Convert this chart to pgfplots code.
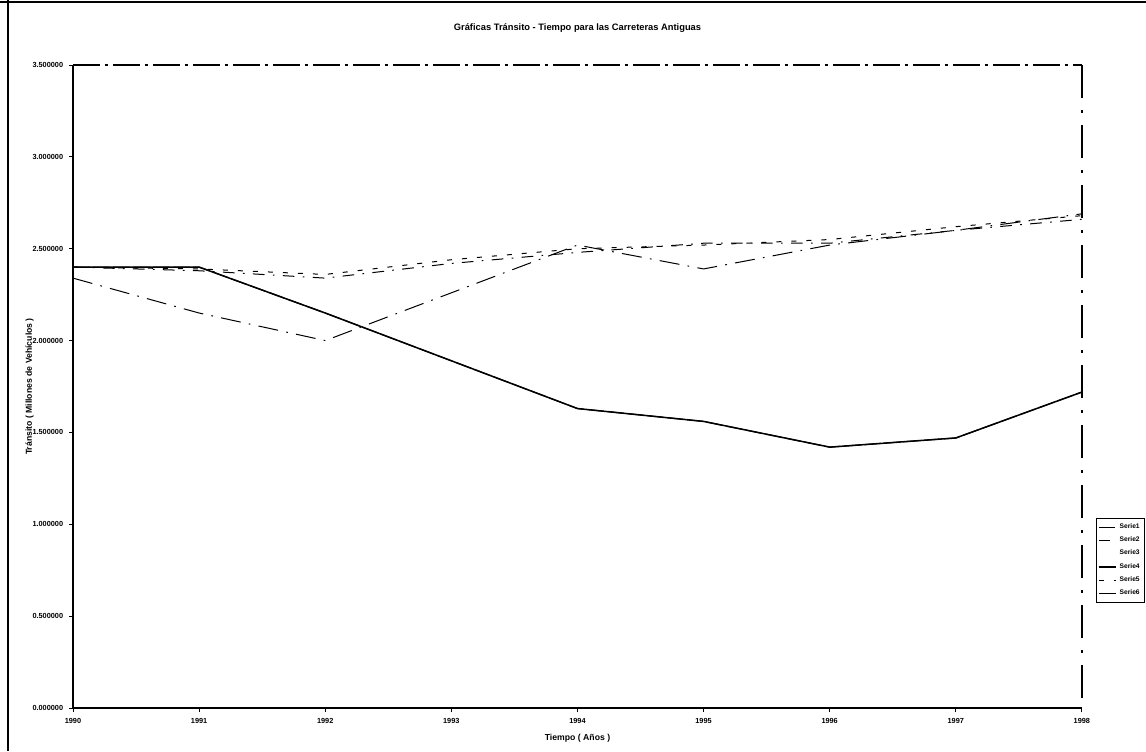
\documentclass[border=0pt]{standalone}
\usepackage{pgfplots}
\pgfplotsset{compat=1.18}
\usepackage{fontspec}
\setmainfont{Liberation Sans}

% Traffic (millions of vehicles) per year, old roads
\pgfplotstableread{
year s1 s2 s3 s4 s5 s6
1990 2.40 2.40 2.40 2.40 2.40 2.34
1991 2.40 2.38 2.38 2.40 2.39 2.15
1992 2.15 2.34 2.34 2.15 2.36 2.00
1993 1.89 2.42 2.42 1.89 2.44 2.26
1994 1.63 2.48 2.48 1.63 2.50 2.52
1995 1.56 2.53 2.53 1.56 2.52 2.39
1996 1.42 2.53 2.53 1.42 2.55 2.52
1997 1.47 2.60 2.60 1.47 2.62 2.60
1998 1.72 2.66 2.66 1.72 2.68 2.69
}\traffic

\begin{document}
\begin{tikzpicture}
% outer chart frame (top and left edges)
\draw[line width=1.6pt] (0pt,-1.2pt) -- (687.6pt,-1.2pt);
\draw[line width=1pt] (4.8pt,0pt) -- (4.8pt,-450.6pt);
\begin{axis}[
  at={(43.8pt,-424.8pt)}, anchor=south west,
  scale only axis, width=605.4pt, height=385.8pt,
  xmin=1990, xmax=1998, ymin=0, ymax=3.5,
  xtick={1990,...,1998},
  ytick={0,0.5,...,3.5},
  axis x line*=bottom, axis y line*=left,
  axis line style={line width=1.3pt, -},
  tick align=outside, major tick length=2.4pt,
  tick style={black, line width=0.6pt},
  xticklabel style={font=\fontsize{4.4}{5}\selectfont\bfseries, /pgf/number format/set thousands separator={}},
  yticklabel style={font=\fontsize{4.4}{5}\selectfont\bfseries, /pgf/number format/.cd, fixed, fixed zerofill, precision=6},
  /pgf/number format/assume math mode=true,
  xlabel={Tiempo ( Años )},
  ylabel={Tránsito ( Millones de Vehículos )},
  every axis x label/.style={at={(rel axis cs:0.5,-0.047)}, anchor=center, font=\fontsize{5.2}{6}\selectfont\bfseries},
  every axis y label/.style={at={(rel axis cs:-0.043,0.5)}, rotate=90, anchor=center, font=\fontsize{5.2}{6}\selectfont\bfseries},
  title={Gráficas Tránsito - Tiempo para las Carreteras Antiguas},
  every axis title/.style={at={(rel axis cs:0.5,1.058)}, anchor=center, font=\fontsize{5.6}{6}\selectfont\bfseries},
  legend style={at={(rel axis cs:1.0138,0.295)}, anchor=north west,
    font=\fontsize{4}{5}\selectfont\bfseries, draw=black, line width=0.6pt,
    inner sep=0.8pt, row sep=-0.4pt, legend cell align=left},
  legend image post style={xscale=0.6},
  clip=false,
]
% plot area border: top and right edges
\draw[line width=0.7pt, dash pattern=on 16pt off 3pt on 2pt off 3pt] (rel axis cs:0,1) -- (rel axis cs:1,1);
\draw[line width=0.8pt, dash pattern=on 20pt off 7pt on 2pt off 7pt] (rel axis cs:1,1) -- (rel axis cs:1,0);

\addplot[black, line width=0.7pt, dash pattern=on 10pt off 2pt] table[x=year,y=s1]{\traffic};
\addlegendentry{Serie1}
\addplot[black, line width=0.6pt, dash pattern=on 7pt off 5pt on 1pt off 5pt] table[x=year,y=s2]{\traffic};
\addlegendentry{Serie2}
\addplot[black, draw opacity=0, line width=0.6pt] table[x=year,y=s3]{\traffic};
\addlegendentry{Serie3}
\addplot[black, line width=0.9pt] table[x=year,y=s4]{\traffic};
\addlegendentry{Serie4}
\addplot[black, line width=0.6pt, dash pattern=on 3pt off 6pt] table[x=year,y=s5]{\traffic};
\addlegendentry{Serie5}
\addplot[black, line width=0.6pt, dash pattern=on 12pt off 5pt on 1pt off 5pt] table[x=year,y=s6]{\traffic};
\addlegendentry{Serie6}
\end{axis}
\pgfresetboundingbox
\path[use as bounding box] (0pt,0pt) rectangle (687.6pt,-450.6pt);
\end{tikzpicture}
\end{document}
